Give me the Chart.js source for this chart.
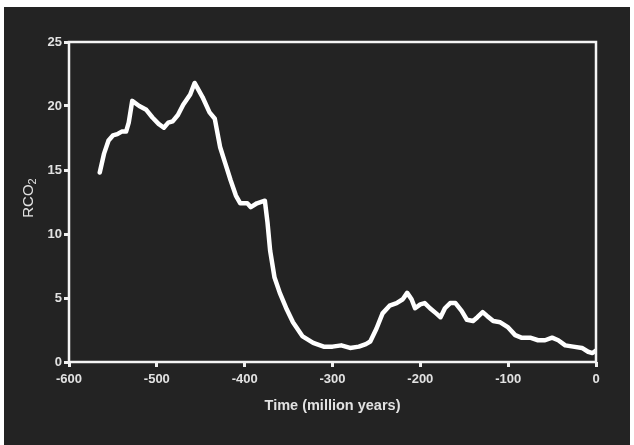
<!DOCTYPE html>
<html>
<head>
<meta charset="utf-8">
<script src="https://cdn.jsdelivr.net/npm/chart.js@4.4.1/dist/chart.umd.min.js"></script>
<style>
html,body{margin:0;padding:0;background:#ffffff;width:634px;height:445px;overflow:hidden;}
#bg{position:absolute;left:4px;top:7px;width:626px;height:438px;background:#232323;}
canvas{display:block;}
</style>
</head>
<body>
<div id="bg"><canvas id="c" width="626" height="438"></canvas></div>
<script>
// Time in million years (negative = before present)
const years = [-565,-560,-555,-550,-545,-540,-535,-532,-528,-520,-512,-505,-498,-492,-487,-482,-476,-470,-462,-457,
  -448,-440,-434,-428,-422,-416,-410,-405,-397,-393,-386,-377,-374,-371,-366,-360,-352,-345,-334,-322,
  -310,-300,-290,-280,-270,-262,-257,-250,-243,-235,-227,-220,-215,-210,-206,-200,-195,-189,-182,-177,
  -172,-166,-160,-153,-147,-140,-135,-129,-124,-117,-109,-100,-92,-85,-75,-66,-58,-50,-43,-35,
  -26,-16,-9,-4,0];
const rco2 = [14.8,16.3,17.3,17.7,17.8,18.0,18.0,18.7,20.4,20.0,19.7,19.1,18.6,18.3,18.7,18.8,19.3,20.1,20.9,21.8,
  20.7,19.5,19.0,16.8,15.5,14.2,13.0,12.4,12.4,12.1,12.4,12.6,10.9,8.7,6.6,5.4,4.1,3.1,2.0,1.5,
  1.2,1.2,1.3,1.1,1.2,1.4,1.6,2.6,3.8,4.4,4.6,4.9,5.4,4.9,4.2,4.5,4.6,4.2,3.8,3.5,
  4.2,4.6,4.6,4.0,3.3,3.2,3.5,3.9,3.6,3.2,3.1,2.7,2.1,1.9,1.9,1.7,1.7,1.9,1.7,1.3,
  1.2,1.1,0.8,0.7,0.9];
const xTicks = [-600,-500,-400,-300,-200,-100,0];
const yTicks = [0,5,10,15,20,25];
const xTitle = 'Time (million years)';
const yTitleMain = 'RCO';
const yTitleSub = '2';

const textColor = '#e2e2e2';
const FONT = 'Liberation Sans, Arial, sans-serif';

const boxPlugin = {
  id:'box',
  afterDraw(chart){
    const a = chart.chartArea, ctx = chart.ctx;
    ctx.save();
    ctx.strokeStyle = '#f4f4f4';
    ctx.lineWidth = 2.5;
    ctx.strokeRect(a.left, a.top, a.right - a.left, a.bottom - a.top);
    // y-axis title with subscript
    const cx = 25, cy = (a.top + a.bottom) / 2 - 4;
    ctx.translate(cx, cy);
    ctx.rotate(-Math.PI / 2);
    ctx.fillStyle = textColor;
    ctx.textBaseline = 'middle';
    ctx.font = '15px ' + FONT;
    const w1 = ctx.measureText(yTitleMain).width;
    ctx.font = '11px ' + FONT;
    const w2 = ctx.measureText(yTitleSub).width;
    const start = -(w1 + w2) / 2;
    ctx.font = '15px ' + FONT;
    ctx.textAlign = 'left';
    ctx.fillText(yTitleMain, start, 0);
    ctx.font = '11px ' + FONT;
    ctx.fillText(yTitleSub, start + w1, 4);
    ctx.restore();
  }
};

new Chart(document.getElementById('c'), {
  type:'line',
  data:{
    datasets:[{
      data: years.map((x,i)=>({x:x, y:rco2[i]})),
      borderColor:'#ffffff',
      borderWidth:4.5,
      pointRadius:0,
      tension:0,
      borderJoinStyle:'round',
      borderCapStyle:'round'
    }]
  },
  options:{
    responsive:false,
    animation:false,
    devicePixelRatio:1,
    layout:{padding:{left:0,right:34,top:35,bottom:0}},
    plugins:{legend:{display:false},tooltip:{enabled:false}},
    scales:{
      x:{
        type:'linear', min:-600, max:0,
        afterBuildTicks(s){ s.ticks = xTicks.map(v=>({value:v})); },
        afterFit(s){ s.height = 83; },
        grid:{display:true, drawOnChartArea:false, drawTicks:true, tickLength:5, color:'#f0f0f0', lineWidth:3},
        border:{display:false},
        ticks:{color:textColor, font:{family:FONT, size:13, weight:'bold'}, padding:5, maxRotation:0},
        title:{display:true, text:xTitle, color:textColor, font:{family:FONT, size:14.5, weight:'bold'}, padding:{top:30,bottom:30}}
      },
      y:{
        type:'linear', min:0, max:25,
        afterBuildTicks(s){ s.ticks = yTicks.map(v=>({value:v})); },
        afterFit(s){ s.width = 65; },
        grid:{display:true, drawOnChartArea:false, drawTicks:true, tickLength:5, color:'#f0f0f0', lineWidth:3},
        border:{display:false},
        ticks:{color:textColor, font:{family:FONT, size:13, weight:'bold'}, padding:2},
        title:{display:false}
      }
    }
  },
  plugins:[boxPlugin]
});
</script>
</body>
</html>
